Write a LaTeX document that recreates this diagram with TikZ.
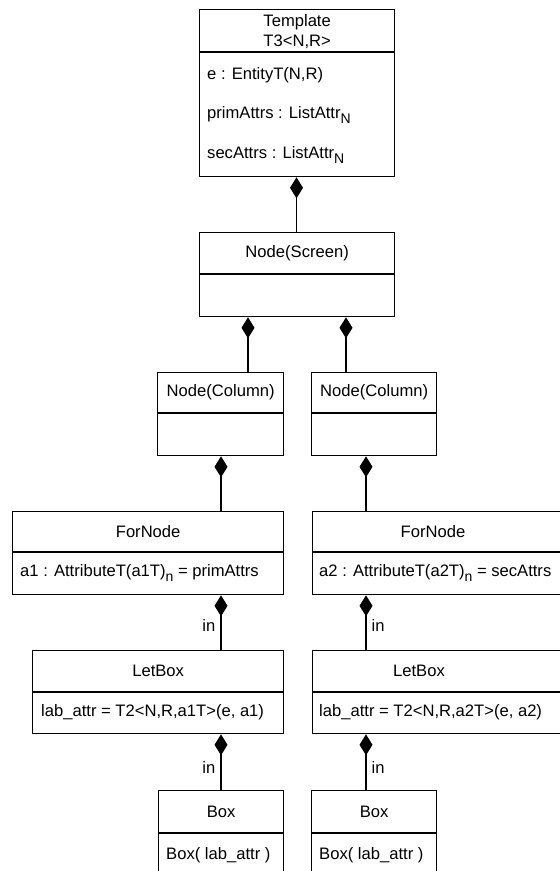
\documentclass[tikz,border=0pt]{standalone}
\usepackage{fontspec}
\setmainfont{Liberation Sans}
\usetikzlibrary{arrows.meta,calc}
% lowered, smaller index letter as used in the attribute types
\newcommand\lowsub[1]{\raisebox{-5pt}{\fontsize{14}{14}\selectfont #1}}
\begin{document}
\begin{tikzpicture}[x=1pt,y=-1pt,
  every node/.style={font=\fontsize{16.6}{19}\selectfont, inner sep=0pt},
  umlbox/.style={draw, line width=1.3pt, rectangle, anchor=north west},
  rule/.style={line width=1.3pt},
  comp/.style={line width=1.3pt, {Diamond[length=21pt,width=13pt]}-},
  attr/.style={anchor=west},
  lbl/.style={}]
\useasboundingbox (0,0) rectangle (560,871);
\clip (0,0) rectangle (560,871);

% ---------- class boxes ----------
% Template
\node[umlbox, minimum width=195pt, minimum height=167pt] (tmpl) at (199,9) {};
\draw[rule] ($(tmpl.north west)+(0,43)$) -- ($(tmpl.north east)+(0,43)$);
\node (tmplT1) at ($(tmpl.north)+(0,13)$) {Template};
\node (tmplT2) at ($(tmpl.north)+(0,33)$) {T3<N,R>};
\node[attr] (tmplA1) at ($(tmpl.north west)+(8,66)$) {e : EntityT(N,R)};
\node[attr] (tmplA2) at ($(tmpl.north west)+(8,106)$) {primAttrs : ListAttr\lowsub{N}};
\node[attr] (tmplA3) at ($(tmpl.north west)+(8,146)$) {secAttrs : ListAttr\lowsub{N}};

% Node(Screen)
\node[umlbox, minimum width=195pt, minimum height=84pt] (scr) at (199,232) {};
\draw[rule] ($(scr.north west)+(0,42)$) -- ($(scr.north east)+(0,42)$);
\node (scrT) at ($(scr.north)+(0,21)$) {Node(Screen)};

% Node(Column) x2
\node[umlbox, minimum width=126pt, minimum height=83pt] (col1) at (157,372) {};
\draw[rule] ($(col1.north west)+(0,41)$) -- ($(col1.north east)+(0,41)$);
\node (col1T) at ($(col1.north)+(0,20.5)$) {Node(Column)};
\node[umlbox, minimum width=125pt, minimum height=83pt] (col2) at (311,372) {};
\draw[rule] ($(col2.north west)+(0,41)$) -- ($(col2.north east)+(0,41)$);
\node (col2T) at ($(col2.north)+(0,20.5)$) {Node(Column)};

% ForNode x2
\node[umlbox, minimum width=271pt, minimum height=83pt] (for1) at (12,511) {};
\draw[rule] ($(for1.north west)+(0,41)$) -- ($(for1.north east)+(0,41)$);
\node (for1T) at ($(for1.north)+(0,20.5)$) {ForNode};
\node[attr] (for1A) at ($(for1.north west)+(8,62)$) {a1 : AttributeT(a1T)\lowsub{n} = primAttrs};
\node[umlbox, minimum width=270pt, minimum height=83pt] (for2) at (312,511) {};
\draw[rule] ($(for2.north west)+(0,41)$) -- ($(for2.north east)+(0,41)$);
\node (for2T) at (433,531.5) {ForNode};
\node[attr] (for2A) at ($(for2.north west)+(7,62)$) {a2 : AttributeT(a2T)\lowsub{n} = secAttrs};

% LetBox x2
\node[umlbox, minimum width=251pt, minimum height=83pt] (let1) at (32,650) {};
\draw[rule] ($(let1.north west)+(0,42)$) -- ($(let1.north east)+(0,42)$);
\node (let1T) at ($(let1.north)+(0,21)$) {LetBox};
\node[attr] (let1A) at ($(let1.north west)+(9,62.5)$) {lab\_attr = T2<N,R,a1T>(e, a1)};
\node[umlbox, minimum width=270pt, minimum height=83pt] (let2) at (312,650) {};
\draw[rule] ($(let2.north west)+(0,42)$) -- ($(let2.north east)+(0,42)$);
\node (let2T) at (419,671) {LetBox};
\node[attr] (let2A) at ($(let2.north west)+(7,62.5)$) {lab\_attr = T2<N,R,a2T>(e, a2)};

% Box x2
\node[umlbox, minimum width=125pt, minimum height=100pt] (box1) at (158,790) {};
\draw[rule] ($(box1.north west)+(0,43)$) -- ($(box1.north east)+(0,43)$);
\node (box1T) at ($(box1.north)+(0,21.5)$) {Box};
\node[attr] (box1A) at ($(box1.north west)+(8,65)$) {Box( lab\_attr )};
\node[umlbox, minimum width=125pt, minimum height=100pt] (box2) at (311,790) {};
\draw[rule] ($(box2.north west)+(0,43)$) -- ($(box2.north east)+(0,43)$);
\node (box2T) at ($(box2.north)+(0,21.5)$) {Box};
\node[attr] (box2A) at ($(box2.north west)+(8,65)$) {Box( lab\_attr )};

% ---------- composition connectors ----------
\coordinate (xTop) at (296.5,0);
\coordinate (xScrL) at (248,0);
\coordinate (xScrR) at (346,0);
\coordinate (xL) at (221,0);
\coordinate (xR) at (366,0);

\draw[comp] (tmpl.south -| xTop) -- (scr.north -| xTop);
\draw[comp] (scr.south -| xScrL) -- (col1.north -| xScrL);
\draw[comp] (scr.south -| xScrR) -- (col2.north -| xScrR);
\draw[comp] (col1.south -| xL) -- (for1.north -| xL);
\draw[comp] (col2.south -| xR) -- (for2.north -| xR);
\draw[comp] (for1.south -| xL) -- node[lbl, pos=0.55, left=5pt] {in} (let1.north -| xL);
\draw[comp] (for2.south -| xR) -- node[lbl, pos=0.55, right=5pt] {in} (let2.north -| xR);
\draw[comp] (let1.south -| xL) -- node[lbl, pos=0.6, left=5pt] {in} (box1.north -| xL);
\draw[comp] (let2.south -| xR) -- node[lbl, pos=0.6, right=5pt] {in} (box2.north -| xR);
\end{tikzpicture}
\end{document}
